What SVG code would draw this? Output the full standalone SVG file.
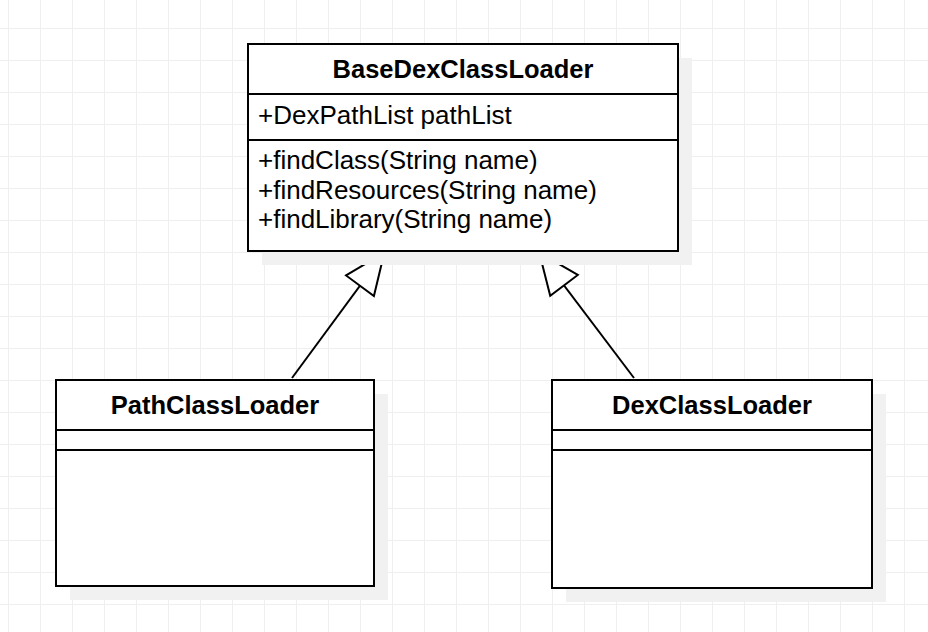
<svg xmlns="http://www.w3.org/2000/svg" width="928" height="632" viewBox="0 0 928 632">
  <style>
    .box { fill: #ffffff; stroke: #000000; stroke-width: 2; }
    .shadow { fill: #f1f1f1; stroke: none; }
    .div { stroke: #000000; stroke-width: 2; fill: none; }
    .title { font-family: "Liberation Sans", Arial, sans-serif; font-weight: bold; font-size: 25.5px; fill: #000000; text-anchor: middle; }
    .member { font-family: "Liberation Sans", Arial, sans-serif; font-size: 26px; fill: #000000; }
    .conn { stroke: #000000; stroke-width: 2; fill: none; marker-end: url(#hollow); }
  </style>
  <defs>
    <pattern id="grid" patternUnits="userSpaceOnUse" x="8" y="28" width="32" height="32">
      <path d="M0.5 0 V32 M0 0.5 H32" stroke="#efefef" stroke-width="1" fill="none"/>
    </pattern>
    <marker id="hollow" markerUnits="userSpaceOnUse" markerWidth="50" markerHeight="44" viewBox="-46 -22 50 44" refX="0" refY="0" orient="auto">
      <path d="M0,0 L-41,-17.3 L-41,17.3 Z" fill="#ffffff" stroke="#000000" stroke-width="2" stroke-linejoin="miter"/>
    </marker>
  </defs>
  <rect x="0" y="0" width="928" height="632" fill="#ffffff"/>
  <rect x="0" y="0" width="928" height="632" fill="url(#grid)"/>

  <g id="connectors">
    <line class="conn" x1="292" y1="378" x2="384.3" y2="252.7"/>
    <line class="conn" x1="634" y1="378" x2="539.3" y2="252.7"/>
  </g>

  <g id="BaseDexClassLoader">
    <rect class="shadow" x="262" y="58" width="430" height="207"/>
    <rect class="box" x="248" y="44" width="430" height="207"/>
    <line class="div" x1="248" y1="94" x2="678" y2="94"/>
    <line class="div" x1="248" y1="140" x2="678" y2="140"/>
    <text class="title" x="463" y="78">BaseDexClassLoader</text>
    <text class="member" x="258" y="124">+DexPathList pathList</text>
    <text class="member" x="258" y="169">+findClass(String name)</text>
    <text class="member" x="258" y="199">+findResources(String name)</text>
    <text class="member" x="258" y="228">+findLibrary(String name)</text>
  </g>

  <g id="PathClassLoader">
    <rect class="shadow" x="70" y="394" width="318" height="206"/>
    <rect class="box" x="56" y="380" width="318" height="206"/>
    <line class="div" x1="56" y1="430" x2="374" y2="430"/>
    <line class="div" x1="56" y1="450" x2="374" y2="450"/>
    <text class="title" x="215" y="414">PathClassLoader</text>
  </g>

  <g id="DexClassLoader">
    <rect class="shadow" x="566" y="394" width="320" height="208"/>
    <rect class="box" x="552" y="380" width="320" height="208"/>
    <line class="div" x1="552" y1="430" x2="872" y2="430"/>
    <line class="div" x1="552" y1="450" x2="872" y2="450"/>
    <text class="title" x="712" y="414">DexClassLoader</text>
  </g>
</svg>
